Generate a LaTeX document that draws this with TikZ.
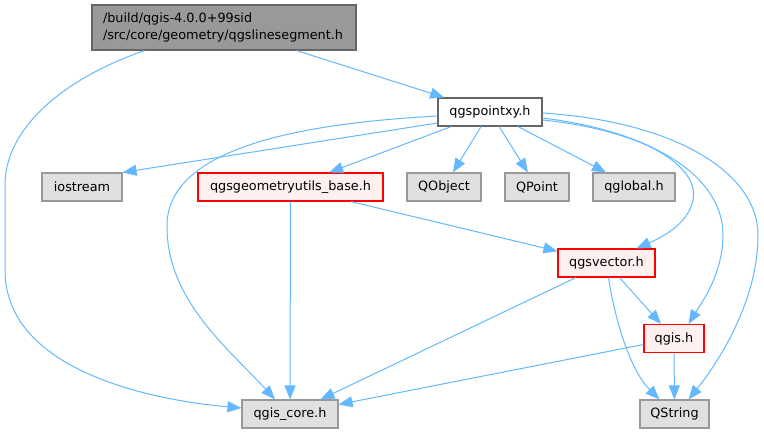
\documentclass[tikz,border=0pt]{standalone}
\usepackage{fontspec}
\setmainfont{DejaVu Sans}
\usetikzlibrary{arrows.meta,calc}
\definecolor{edgeblue}{HTML}{63B8FF}
\definecolor{topfill}{HTML}{999999}
\definecolor{topdraw}{HTML}{666666}
\definecolor{grayfill}{HTML}{E0E0E0}
\definecolor{graydraw}{HTML}{999999}
\definecolor{redfill}{HTML}{FFF0F0}
\definecolor{reddraw}{HTML}{FF0000}
\tikzset{
  box/.style={rectangle, draw, line width=1.1pt, inner sep=0pt, minimum height=28pt,
    font=\fontsize{12.8}{17}\selectfont},
  graybox/.style={box, fill=grayfill, draw=graydraw},
  redbox/.style={box, fill=redfill, draw=reddraw},
  whitebox/.style={box, fill=white, draw=topdraw},
  topbox/.style={box, fill=topfill, draw=topdraw, text width=242pt, align=left,
    inner xsep=11pt, minimum height=45pt},
  dep/.style={draw=edgeblue, line width=1pt, -{Triangle[length=14pt,width=11pt]}}
}
\begin{document}
\begin{tikzpicture}[x=1pt,y=-1pt]
\useasboundingbox (0,0) rectangle (764,434);
\node[topbox] (top) at (224,27.5) {/build/qgis-4.0.0+99sid\\/src/core/geometry/qgslinesegment.h};
\node[whitebox, minimum width=104pt] (pxy) at (490,112) {qgspointxy.h};
\node[graybox, minimum width=80pt] (ios) at (82,187) {iostream};
\node[redbox, minimum width=185pt] (geo) at (290.5,187) {qgsgeometryutils\_base.h};
\node[graybox, minimum width=74pt] (qobj) at (444,187) {QObject};
\node[graybox, minimum width=64pt] (qpt) at (537,187) {QPoint};
\node[graybox, minimum width=82pt] (qglob) at (634,187) {qglobal.h};
\node[redbox, minimum width=97pt] (vec) at (606.5,263) {qgsvector.h};
\node[redbox, minimum width=60pt] (qgis) at (674,338.5) {qgis.h};
\node[graybox, minimum width=69pt] (qstr) at (674.5,414) {QString};
\node[graybox, minimum width=96pt] (core) at (290,414) {qgis\_core.h};

% top node edges
\draw[dep] (top) -- (pxy);
\draw[dep] ($(top.south west)+(53,0)$) .. controls (60,80) and (5,130) .. (5,185)
  -- (5,270) .. controls (5,370) and (150,400) .. ($(core.west)+(0,-6)$);

% qgspointxy edges
\draw[dep] ($(pxy.west)+(0,11)$) -- (ios.north east);
\draw[dep] (pxy) -- (geo);
\draw[dep] (pxy) -- (qobj);
\draw[dep] (pxy) -- (qpt);
\draw[dep] (pxy) -- (qglob);
\draw[dep] ($(pxy.west)+(0,4)$) .. controls (330,122) and (168,140) .. (167,225)
  .. controls (166,300) and (230,350) .. ($(core.north)+(-15,0)$);
\draw[dep] ($(pxy.east)+(0,6)$) .. controls (640,130) and (700,165) .. (693,200)
  .. controls (688,225) and (660,238) .. ($(vec.north east)+(-19,0)$);
\draw[dep] ($(pxy.east)+(0,8)$) .. controls (660,132) and (723,180) .. (723,235)
  .. controls (723,275) and (700,305) .. ($(qgis.north east)+(-16,0)$);
\draw[dep] ($(pxy.east)+(0,1)$) .. controls (680,122) and (758,175) .. (758,235)
  .. controls (758,300) and (720,360) .. ($(qstr.north east)+(-21,0)$);

% geometryutils edges
\draw[dep] (geo) -- (core);
\draw[dep] (geo) -- (vec);

% qgsvector edges
\draw[dep] (vec) -- (core);
\draw[dep] (vec) -- (qgis);
\draw[dep] ($(vec.south)+(2,0)$) .. controls (615,320) and (630,370) .. ($(qstr.north west)+(20,0)$);

% qgis edges
\draw[dep] (qgis) -- (core);
\draw[dep] (qgis) -- (qstr);
\end{tikzpicture}
\end{document}
